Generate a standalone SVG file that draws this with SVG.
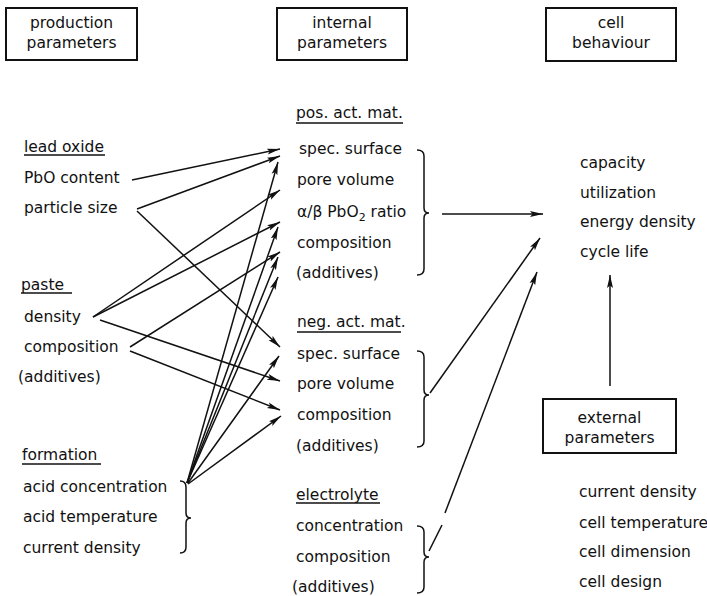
<svg xmlns="http://www.w3.org/2000/svg" width="707" height="596" viewBox="0 0 707 596">
<style>
  text { font-family: "DejaVu Sans", "Liberation Sans", sans-serif; font-size: 15.5px; fill: #111; }
  .c { text-anchor: middle; }
  .box { fill: none; stroke: #111; stroke-width: 2; }
  .ln { fill: none; stroke: #111; stroke-width: 1.5; }
  .ar { fill: none; stroke: #111; stroke-width: 1.5; marker-end: url(#ah); }
  .ul { stroke: #111; stroke-width: 1.5; }
</style>
<defs>
  <marker id="ah" markerUnits="userSpaceOnUse" markerWidth="14" markerHeight="8" refX="13" refY="3.5" orient="auto">
    <path d="M0,0.5 L13,3.5 L0,6.5 L2.5,3.5 z" fill="#111"/>
  </marker>
</defs>
<rect width="707" height="596" fill="#fff"/>

<g id="box-production">
  <rect class="box" x="6" y="8" width="131" height="52"/>
  <text class="c" x="71.5" y="28">production</text>
  <text class="c" x="71.5" y="48">parameters</text>
</g>
<g id="box-internal">
  <rect class="box" x="277" y="8" width="130" height="52"/>
  <text class="c" x="342" y="28">internal</text>
  <text class="c" x="342" y="48">parameters</text>
</g>
<g id="box-cell">
  <rect class="box" x="546" y="8" width="130" height="53"/>
  <text class="c" x="611" y="28">cell</text>
  <text class="c" x="611" y="48">behaviour</text>
</g>
<g id="box-external">
  <rect class="box" x="543" y="399" width="133" height="54"/>
  <text class="c" x="609.5" y="423">external</text>
  <text class="c" x="609.5" y="443">parameters</text>
</g>

<g id="lead-oxide">
  <text x="24" y="152">lead oxide</text>
  <line class="ul" x1="24" y1="155" x2="105" y2="155"/>
  <text x="24" y="183">PbO content</text>
  <text x="24" y="213">particle size</text>
</g>
<g id="paste">
  <text x="21" y="290">paste</text>
  <line class="ul" x1="21" y1="293" x2="72" y2="293"/>
  <text x="24" y="322">density</text>
  <text x="24" y="352">composition</text>
  <text x="18" y="382">(additives)</text>
</g>
<g id="formation">
  <text x="22" y="460">formation</text>
  <line class="ul" x1="22" y1="464" x2="101" y2="464"/>
  <text x="23" y="492">acid concentration</text>
  <text x="23" y="522">acid temperature</text>
  <text x="23" y="553">current density</text>
  <path class="ln" d="M180,481 Q186,481 186,487 L186,513 Q186,518 191,518 Q186,518 186,523 L186,547 Q186,553 180,553"/>
</g>

<g id="pos-act-mat">
  <text x="296" y="118">pos. act. mat.</text>
  <line class="ul" x1="296" y1="123" x2="403" y2="123"/>
  <text x="299" y="154">spec. surface</text>
  <text x="297" y="185">pore volume</text>
  <text x="297" y="217">α/β PbO<tspan font-size="11" dy="4">2</tspan><tspan dy="-4"> ratio</tspan></text>
  <text x="297" y="248">composition</text>
  <text x="296" y="278">(additives)</text>
  <path class="ln" d="M417,150 Q424,150 424,156 L424,208 Q424,213 429,213 Q424,213 424,218 L424,269 Q424,275 417,275"/>
</g>
<g id="neg-act-mat">
  <text x="297" y="327">neg. act. mat.</text>
  <line class="ul" x1="297" y1="332" x2="401" y2="332"/>
  <text x="297" y="359">spec. surface</text>
  <text x="297" y="389">pore volume</text>
  <text x="297" y="420">composition</text>
  <text x="296" y="451">(additives)</text>
  <path class="ln" d="M417,351 Q424,351 424,357 L424,390 Q424,395 429,395 Q424,395 424,400 L424,441 Q424,447 417,447"/>
</g>
<g id="electrolyte">
  <text x="296" y="500">electrolyte</text>
  <line class="ul" x1="296" y1="503" x2="380" y2="503"/>
  <text x="296" y="531">concentration</text>
  <text x="296" y="562">composition</text>
  <text x="292" y="592">(additives)</text>
  <path class="ln" d="M417,526 Q424,526 424,532 L424,552 Q424,557 429,557 Q424,557 424,562 L424,587 Q424,593 417,593"/>
</g>

<g id="cell-behaviour">
  <text x="580" y="168">capacity</text>
  <text x="580" y="198">utilization</text>
  <text x="580" y="227">energy density</text>
  <text x="580" y="257">cycle life</text>
</g>
<g id="external-parameters">
  <text x="579" y="497">current density</text>
  <text x="579" y="528">cell temperature</text>
  <text x="579" y="557">cell dimension</text>
  <text x="579" y="587">cell design</text>
</g>

<g id="connectors">
  <line class="ar" x1="132" y1="180" x2="280" y2="149"/>
  <line class="ar" x1="137" y1="209" x2="280" y2="156"/>
  <line class="ar" x1="137" y1="211" x2="280" y2="347"/>
  <line class="ar" x1="93" y1="317" x2="280" y2="190"/>
  <line class="ar" x1="93" y1="317" x2="280" y2="222"/>
  <line class="ar" x1="100" y1="320" x2="280" y2="381"/>
  <line class="ar" x1="130" y1="347" x2="280" y2="252"/>
  <line class="ar" x1="130" y1="351" x2="280" y2="410"/>
  <line class="ar" x1="187" y1="483" x2="278" y2="162"/>
  <line class="ar" x1="187" y1="483" x2="278" y2="227"/>
  <line class="ar" x1="187" y1="483" x2="278" y2="257"/>
  <line class="ar" x1="187" y1="483" x2="278" y2="277"/>
  <line class="ar" x1="188" y1="483" x2="279" y2="356"/>
  <line class="ar" x1="188" y1="484" x2="281" y2="416"/>
  <line class="ar" x1="442" y1="214" x2="543" y2="214"/>
  <line class="ar" x1="430" y1="393" x2="540" y2="238"/>
  <path class="ln" d="M429,551 L442,525"/>
  <line class="ar" x1="445" y1="513" x2="537" y2="272"/>
  <line class="ar" x1="610" y1="386" x2="610" y2="275"/>
</g>
</svg>
